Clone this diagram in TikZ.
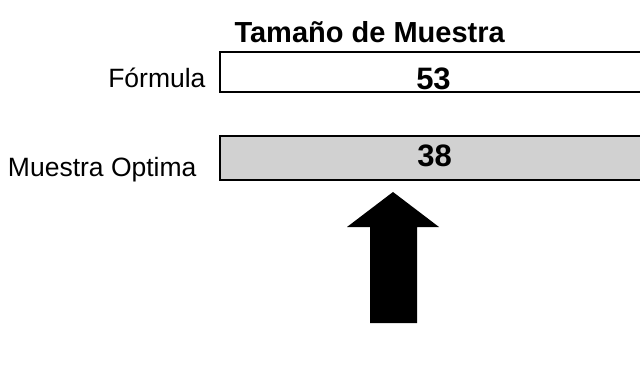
\documentclass[tikz,border=0pt]{standalone}
\usepackage{fontspec}
\setmainfont{Liberation Sans}
\begin{document}
\begin{tikzpicture}[x=1pt,y=1pt,
		valbox/.style={draw,line width=1.4pt,minimum width=430pt,inner sep=0pt},
		rowlabel/.style={anchor=base east,font=\fontsize{26.5}{26.5}\selectfont},
		valnum/.style={anchor=base,font=\fontsize{31}{31}\selectfont\bfseries}]
\useasboundingbox (0,0) rectangle (640,370);

\node[anchor=base west,font=\fontsize{29}{29}\selectfont\bfseries] (title) at (231,327) {Tama\~no de Muestra};

\node[valbox,minimum height=40pt] (formula) at (435,298) {};
\node[valbox,minimum height=44pt,line width=2.2pt,fill=black!18] (optima) at (435,212) {};
\node[valnum] (n53) at (433.5,280) {53};
\node[valnum] (n38) at (434.5,203) {38};

\node[rowlabel] (lformula) at (209,282) {F\'ormula};
\node[rowlabel] (loptima) at (200,193) {Muestra Optima};

\coordinate (tip) at (393,178);
\fill (tip) -- (439,143) -- (417,143) -- (417,47) -- (370,47) -- (370,143) -- (347,143) -- cycle;
\end{tikzpicture}
\end{document}
